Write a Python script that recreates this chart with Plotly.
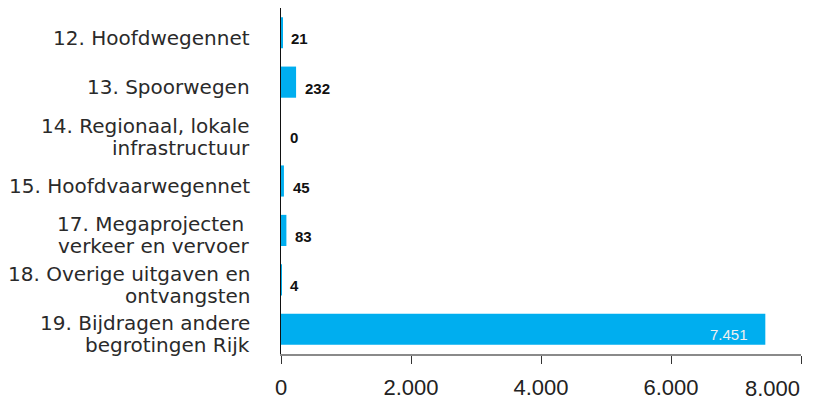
import plotly.graph_objects as go

categories = [
    "12. Hoofdwegennet",
    "13. Spoorwegen",
    "14. Regionaal, lokale infrastructuur",
    "15. Hoofdvaarwegennet",
    "17. Megaprojecten verkeer en vervoer",
    "18. Overige uitgaven en ontvangsten",
    "19. Bijdragen andere begrotingen Rijk",
]
label_lines = [
    ["12. Hoofdwegennet"],
    ["13. Spoorwegen"],
    ["14. Regionaal, lokale", "infrastructuur"],
    ["15. Hoofdvaarwegennet"],
    ["17. Megaprojecten ", "verkeer en vervoer"],
    ["18. Overige uitgaven en", "ontvangsten"],
    ["19. Bijdragen andere", "begrotingen Rijk"],
]
values = [21, 232, 0, 45, 83, 4, 7451]
tick_vals = [0, 2000, 4000, 6000, 8000]

BAR = "#00AEEF"
FONT = "Liberation Sans"
LABEL_FONT = "DejaVu Sans"


def fmt(v):
    return f"{v:,}".replace(",", ".")


fig = go.Figure(go.Bar(
    x=values,
    y=categories,
    orientation="h",
    marker=dict(color=BAR, line=dict(width=0)),
    hoverinfo="skip",
))

# value labels
for cat, v in zip(categories, values):
    if v > 1000:
        fig.add_annotation(
            x=v, xref="x", xanchor="right", xshift=-15,
            y=cat, yref="y", yanchor="middle", yshift=-5,
            text=fmt(v), showarrow=False,
            font=dict(family=FONT, size=15, color="#f0f0f0"),
        )
    else:
        fig.add_annotation(
            x=v, xref="x", xanchor="left", xshift=7,
            y=cat, yref="y", yanchor="middle", yshift=-6,
            text=fmt(v), showarrow=False,
            font=dict(family=FONT, size=15, color="#111111", weight="bold"),
        )

# category labels (one annotation per text line, anchored to the category)
LINE = 22
for cat, lines in zip(categories, label_lines):
    n = len(lines)
    for i, ln in enumerate(lines):
        off = ((n - 1) / 2 - i) * LINE - 5
        fig.add_annotation(
            x=0, xref="paper", xanchor="right", xshift=-30,
            y=cat, yref="y", yanchor="middle", yshift=off,
            text=ln, showarrow=False, borderpad=0,
            font=dict(family=LABEL_FONT, size=20, color="#2a2a2a"),
        )

# x tick labels; the last one is right-aligned to its tick as in the reference
tick_text = [fmt(v) for v in tick_vals]
tick_text[-1] = ""
fig.add_annotation(
    x=tick_vals[-1], xref="x", xanchor="right", xshift=0,
    y=0, yref="paper", yanchor="top", yshift=-21,
    text=fmt(tick_vals[-1]), showarrow=False, borderpad=0,
    font=dict(family=FONT, size=22, color="#222222"),
)

fig.update_layout(
    width=805, height=393,
    margin=dict(l=273, r=12, t=0, b=47, autoexpand=False),
    paper_bgcolor="white",
    plot_bgcolor="white",
    separators=",.",
    bargap=0.37,
    showlegend=False,
    font=dict(family=FONT, color="#222222"),
)

fig.update_xaxes(
    range=[0, 8000],
    tickvals=tick_vals,
    ticktext=tick_text,
    showgrid=False,
    zeroline=False,
    showline=True,
    linecolor="#8a8a8a",
    linewidth=1.5,
    ticks="outside",
    ticklen=8,
    tickcolor="#333333",
    tickwidth=1,
    automargin=False,
    ticklabelstandoff=5,
    tickfont=dict(size=22, color="#222222"),
)

fig.update_yaxes(
    autorange="reversed",
    showgrid=False,
    zeroline=False,
    showline=True,
    linecolor="#111111",
    linewidth=1,
    ticks="",
    showticklabels=False,
    automargin=False,
)

fig.write_html("out.html")
